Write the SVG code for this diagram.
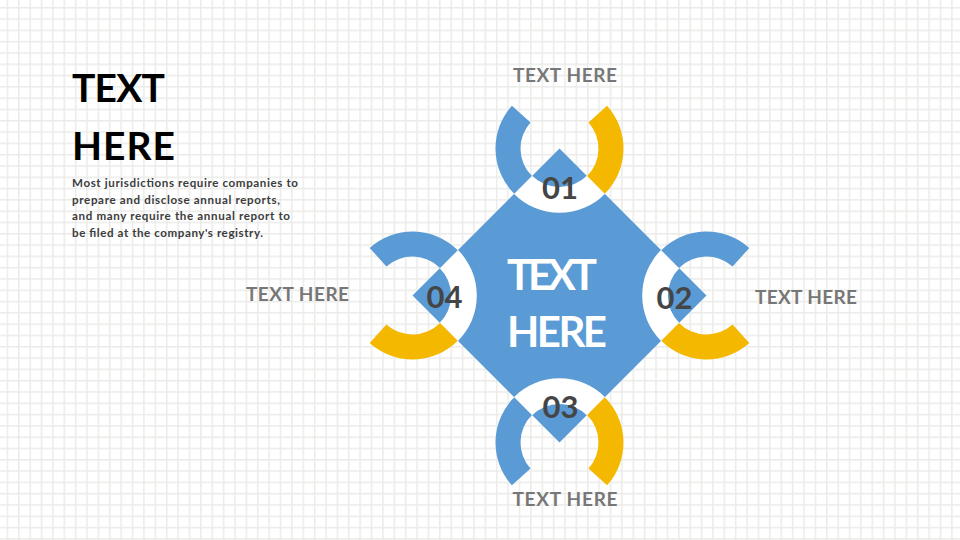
<svg xmlns="http://www.w3.org/2000/svg" xmlns:xlink="http://www.w3.org/1999/xlink" width="960" height="540" viewBox="0 0 960 540">
<style>
.lbl{font-family:Lato,"Open Sans","DejaVu Sans",sans-serif;font-size:19px;font-weight:bold;fill:#777777;text-anchor:middle}
.num{font-family:Lato,"Open Sans","DejaVu Sans",sans-serif;font-size:31px;font-weight:bold;fill:#454545;text-anchor:middle}
.ctr{font-family:Lato,"Open Sans","DejaVu Sans",sans-serif;font-size:42px;font-weight:bold;fill:#ffffff}
.hd{font-family:Lato,"Open Sans","DejaVu Sans",sans-serif;font-size:39px;font-weight:bold;fill:#000000}
.para{font-family:Lato,"Open Sans","DejaVu Sans",sans-serif;font-size:11.6px;font-weight:bold;fill:#3c3c3c}
.blue{fill:#5b9bd5}
.gold{fill:#f5b800}
.white{fill:#ffffff}
</style>
<defs>
<pattern id="grid" patternUnits="userSpaceOnUse" x="6.6" y="7" width="11.38" height="11.3">
<rect x="0" y="0" width="11.38" height="11.3" fill="#ffffff"/>
<rect x="0" y="0" width="1.5" height="11.3" fill="#ebebe9"/>
<rect x="0" y="0" width="11.38" height="1.5" fill="#ebebe9"/>
</pattern>
<path id="arc" d="M64 0 A64 64 0 0 1 3.35 63.91 L2.04 38.95 A39 39 0 0 0 39 0 Z"/>
<path id="wq" d="M64.3 -0.6 A64.3 64.3 0 0 1 -0.6 64.3 L-0.4 38.6 A38.6 38.6 0 0 0 38.6 -0.4 Z"/>
</defs>
<rect id="background" x="0" y="0" width="960" height="540" fill="url(#grid)"/>

<g id="center-diamond">
<polygon class="blue" points="559.5,148.5 706.5,295.5 559.5,442.5 412.5,295.5"/>
<text class="ctr" x="507" y="290" textLength="90">TEXT</text>
<text class="ctr" x="507" y="347" textLength="100">HERE</text>
</g>

<g id="node-01">
<use xlink:href="#wq" class="white" transform="translate(559.5,148.5) rotate(45)"/>
<use xlink:href="#arc" class="blue" transform="translate(559.5,148.5) rotate(135)"/>
<use xlink:href="#arc" class="gold" transform="translate(559.5,148.5) rotate(318)"/>
<text class="num" x="560" y="199">01</text>
<text class="lbl" x="565" y="82" textLength="104">TEXT HERE</text>
</g>

<g id="node-02">
<use xlink:href="#wq" class="white" transform="translate(706.5,295.5) rotate(135)"/>
<use xlink:href="#arc" class="blue" transform="translate(706.5,295.5) rotate(225)"/>
<use xlink:href="#arc" class="gold" transform="translate(706.5,295.5) rotate(48)"/>
<text class="num" x="674.5" y="309">02</text>
<text class="lbl" x="806" y="304" textLength="102">TEXT HERE</text>
</g>

<g id="node-03">
<use xlink:href="#wq" class="white" transform="translate(559.5,442.5) rotate(225)"/>
<use xlink:href="#arc" class="blue" transform="translate(559.5,442.5) rotate(138)"/>
<use xlink:href="#arc" class="gold" transform="translate(559.5,442.5) rotate(315)"/>
<text class="num" x="560.5" y="418">03</text>
<text class="lbl" x="565" y="506" textLength="105">TEXT HERE</text>
</g>

<g id="node-04">
<use xlink:href="#wq" class="white" transform="translate(412.5,295.5) rotate(-45)"/>
<use xlink:href="#arc" class="blue" transform="translate(412.5,295.5) rotate(228)"/>
<use xlink:href="#arc" class="gold" transform="translate(412.5,295.5) rotate(45)"/>
<text class="num" x="444.5" y="308">04</text>
<text class="lbl" x="297.5" y="301" textLength="103">TEXT HERE</text>
</g>

<g id="intro">
<text class="hd" x="72" y="102" textLength="93">TEXT</text>
<text class="hd" x="72" y="160" textLength="103">HERE</text>
<text class="para" x="72" y="187" textLength="226">Most jurisdictions require companies to</text>
<text class="para" x="72" y="203.5" textLength="208">prepare and disclose annual reports,</text>
<text class="para" x="72" y="220" textLength="218">and many require the annual report to</text>
<text class="para" x="72" y="236.5" textLength="191">be filed at the company's registry.</text>
</g>

<g id="connectors"></g>
</svg>
